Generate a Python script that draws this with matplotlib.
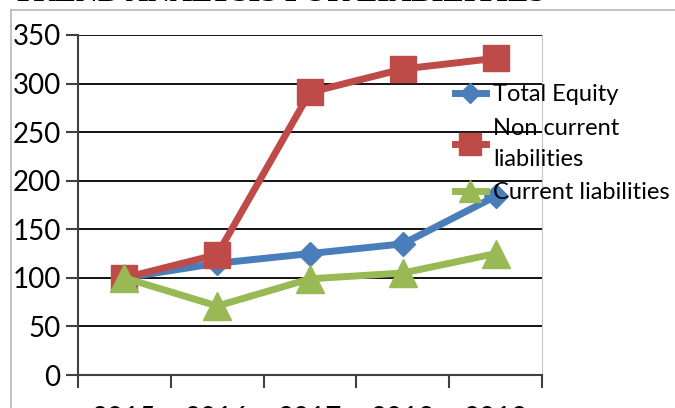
import matplotlib
matplotlib.use("Agg")
import matplotlib.pyplot as plt
from matplotlib.lines import Line2D

years = ["2015", "2016", "2017", "2018", "2019"]
total_equity = [100, 115, 125, 135, 184]
non_current = [100, 124, 291, 315, 326]
current = [100, 71, 99, 105, 125]
series_names = ["Total Equity", "Non current\nliabilities", "Current liabilities"]
y_ticks = [0, 50, 100, 150, 200, 250, 300, 350]
title = "TREND ANALYSIS FOR LIABILITIES"

plt.rcParams['font.family'] = ['Lato', 'DejaVu Sans']

W, H = 675, 408
fig = plt.figure(figsize=(W / 100, H / 100), dpi=100)
fig.patch.set_facecolor('white')

# chart frame (gray border, continues beyond image)
fig.add_artist(Line2D([11 / W, 11 / W], [1 - 10 / H, 0], transform=fig.transFigure,
                      color='#b8b8b8', lw=1.2))
fig.add_artist(Line2D([11 / W, 1], [1 - 10 / H, 1 - 10 / H], transform=fig.transFigure,
                      color='#b8b8b8', lw=1.2))

# title, mostly cut off at the top (as in the reference crop)
fig.text(13 / W, 1 - 1 / H, title, family=['Liberation Serif'], fontweight='bold',
         fontsize=22, va='baseline', ha='left', color='black')

ax = fig.add_axes([78 / W, 33 / H, 464 / W, 340 / H])
x = list(range(1, len(years) + 1))

ax.plot(x, total_equity, color='#4a7ebb', lw=5, marker='D', ms=12.5,
        label=series_names[0], zorder=3)
ax.plot(x, non_current, color='#be4b48', lw=5, marker='s', ms=19,
        label=series_names[1], zorder=4)
ax.plot(x, current, color='#98b954', lw=5, marker='^', ms=20,
        label=series_names[2], zorder=5)

ax.set_xlim(0.5, len(years) + 0.5)
ax.set_ylim(0, 350)
ax.set_yticks(y_ticks)
ax.set_yticklabels([str(v) for v in y_ticks])
ax.yaxis.grid(True, color='black', lw=1.3)
ax.set_axisbelow(True)

ax.set_xticks([i + 0.5 for i in range(0, len(years) + 1)])
ax.set_xticklabels([])
ax.set_xticks(x, minor=True)
ax.set_xticklabels(years, minor=True)
ax.tick_params(axis='x', which='major', direction='out', length=9.5, width=1.5,
               color='#404040')
ax.tick_params(axis='x', which='minor', length=0, pad=22.3, labelsize=20)
ax.tick_params(axis='y', direction='out', length=8.5, width=1.5, color='#404040',
               labelsize=20, pad=4)

ax.spines['top'].set_visible(False)
ax.spines['right'].set_color('#c8c8c8')
ax.spines['right'].set_linewidth(0.8)
for s in ['left', 'bottom']:
    ax.spines[s].set_color('#404040')
    ax.spines[s].set_linewidth(1.5)

leg = ax.legend(loc='upper left', bbox_to_anchor=(455 / W, 1 - 84 / H),
                bbox_transform=fig.transFigure, frameon=False, fontsize=17,
                borderpad=0, borderaxespad=0, handlelength=1.3, handletextpad=0.3,
                labelspacing=0.54, markerscale=0.8)
for t in leg.get_texts():
    t.set_linespacing(1.58)
leg.set_zorder(10)

fig.savefig('out.png', dpi=100)
